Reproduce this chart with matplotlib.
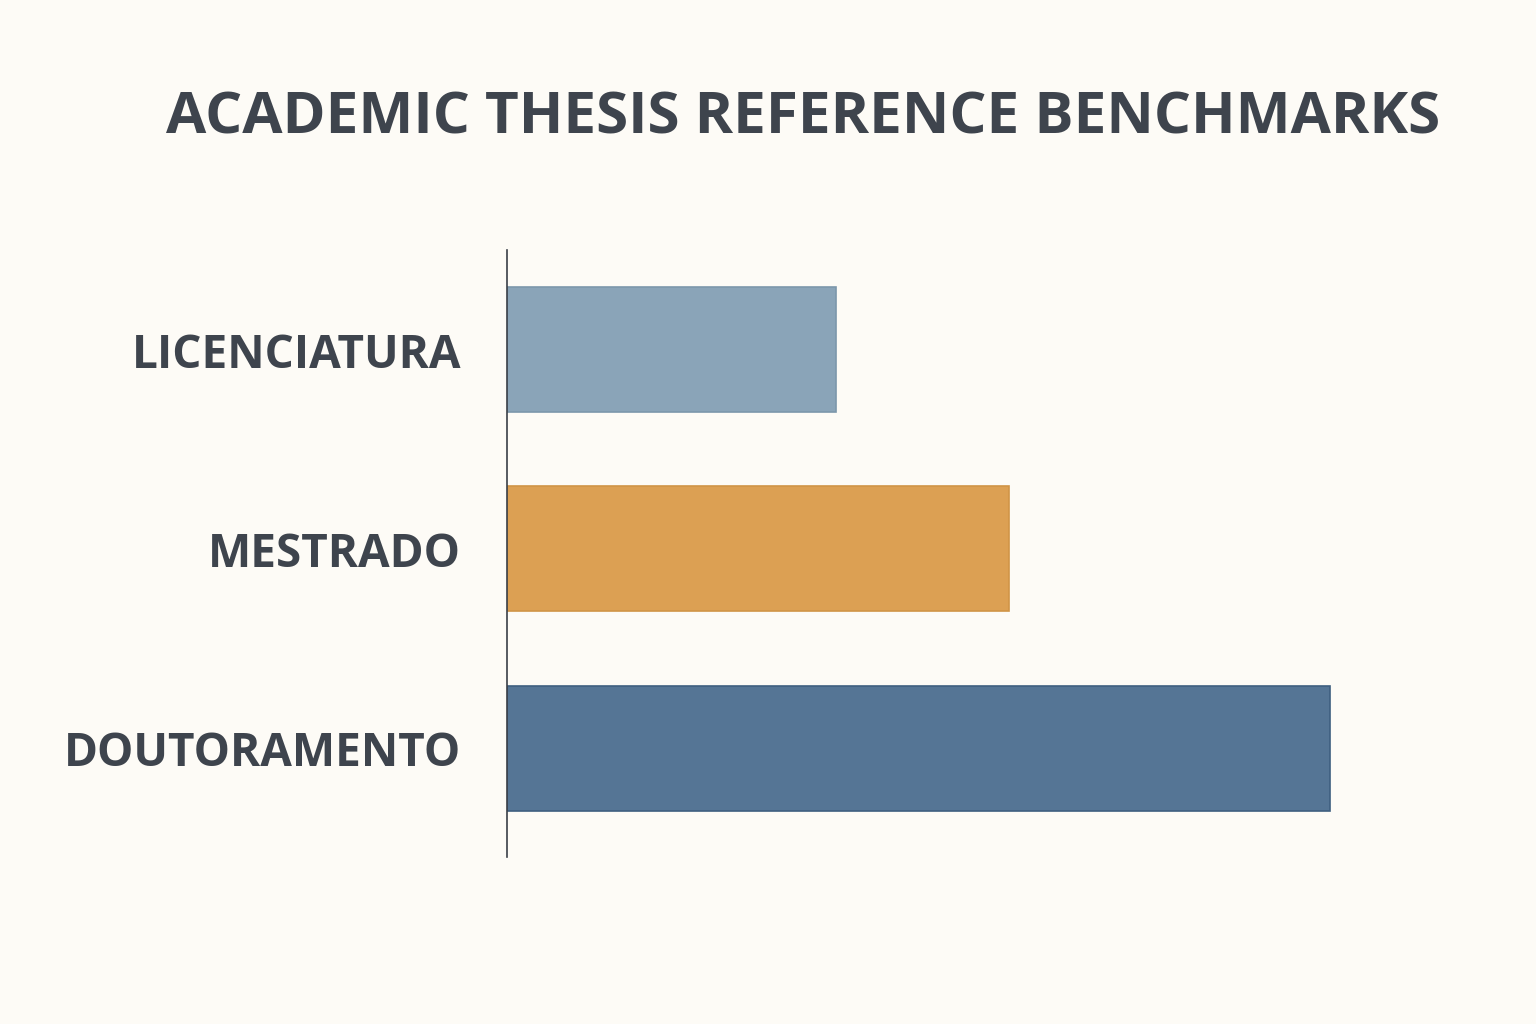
import matplotlib
matplotlib.use('Agg')
import matplotlib.pyplot as plt

# Data
categories = ['LICENCIATURA', 'MESTRADO', 'DOUTORAMENTO']
values = [40, 61, 100]
bar_colors = ['#8AA4B8', '#DCA053', '#557595']
edge_colors = ['#7C97AB', '#D09446', '#3F5F80']

bg = '#FDFBF6'
text_color = '#3E444D'

plt.rcParams['font.family'] = ['Open Sans', 'DejaVu Sans']

fig = plt.figure(figsize=(15.36, 10.24), dpi=100, facecolor=bg)
ax = fig.add_axes([0.330, 0.163, 0.6075, 0.593])
ax.set_facecolor(bg)

ypos = list(range(len(categories)))
ax.barh(ypos, values, height=0.627, color=bar_colors, edgecolor=edge_colors, linewidth=1.2)

ax.set_xlim(0, 113.4)
ax.set_ylim(2.546, -0.5)
ax.set_yticks(ypos)
ax.set_yticklabels(categories, fontsize=33, fontweight='bold', color=text_color)
ax.tick_params(axis='y', length=0, pad=33)
ax.set_xticks([])

for side in ['top', 'right', 'bottom']:
    ax.spines[side].set_visible(False)
ax.spines['left'].set_color('#3A3F47')
ax.spines['left'].set_linewidth(1.2)

fig.text(0.523, 0.884, 'ACADEMIC THESIS REFERENCE BENCHMARKS', ha='center', va='center',
         fontsize=42, fontweight='bold', color=text_color)

fig.savefig('out.png', dpi=100, facecolor=bg)
